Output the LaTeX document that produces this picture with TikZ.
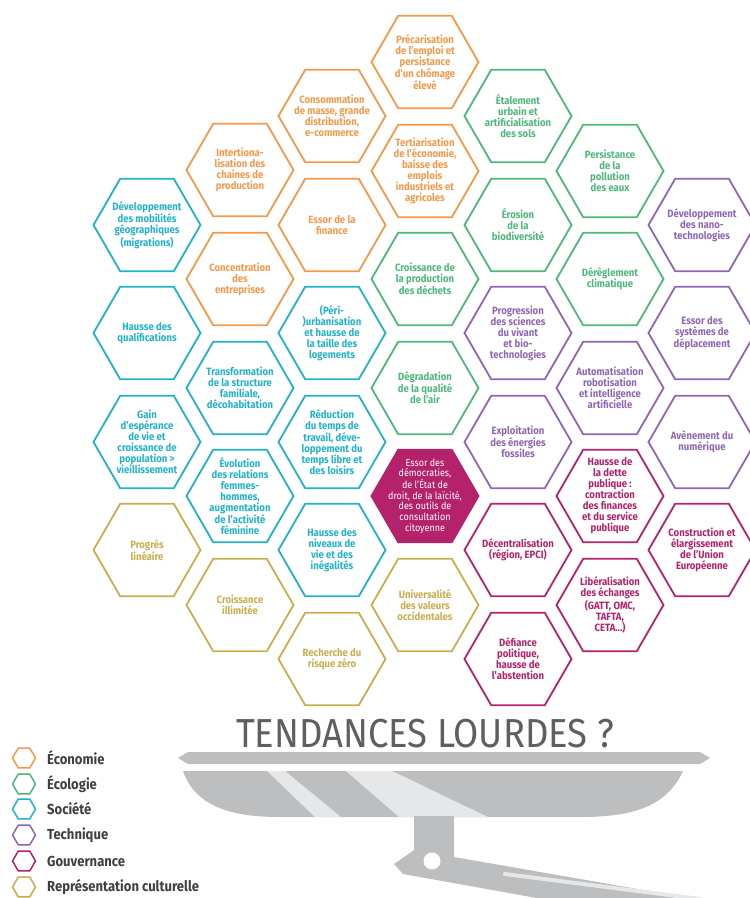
\documentclass[tikz,border=0pt]{standalone}
\usepackage{fontspec}
\setmainfont{Fira Sans}[FakeStretch=0.9]
\usetikzlibrary{shapes.geometric}

\definecolor{ecocol}{HTML}{F4994A}
\definecolor{ecolcol}{HTML}{4DB878}
\definecolor{soccol}{HTML}{22B2C7}
\definecolor{techcol}{HTML}{8E66B3}
\definecolor{gouvcol}{HTML}{B3226B}
\definecolor{cultcol}{HTML}{C8AE4E}
\definecolor{panfill}{HTML}{BDBEC0}
\definecolor{panlight}{HTML}{E6E7E8}
\definecolor{titlegray}{HTML}{5E5F62}
\definecolor{keygray}{HTML}{3F4042}

% one cell of the honeycomb: name, x, y, colour, text
\newcommand{\hexcell}[5]{%
  \node [hexbox, draw=#4] (#1) at (#2,#3) {};
  \node [hextext, text=#4] (#1-t) at (#1.center) {#5};
}
% one key entry: name, y, colour, text
\newcommand{\keyentry}[4]{%
  \node [keyhex, draw=#3] (#1) at (24,#2) {};
  \node [keytext] (#1-t) at (47,#2) {#4};
}

\begin{document}
\begin{tikzpicture}[x=1pt,y=1pt,yscale=-1,
  hexbox/.style={regular polygon, regular polygon sides=6, minimum size=107pt,
    inner sep=0pt, line width=1.8pt},
  hextext/.style={align=center, inner sep=0pt,
    font=\bfseries\fontsize{10.6}{11}\selectfont},
  keyhex/.style={regular polygon, regular polygon sides=6, minimum size=23pt,
    inner sep=0pt, line width=1.5pt},
  keytext/.style={anchor=west, inner sep=0pt, text=keygray,
    font=\bfseries\fontsize{14.5}{16}\selectfont}]
\clip (0,0) rectangle (750,898);

% column 0
\hexcell{mobil}{147}{225}{soccol}{Développement\\des mobilités\\géographiques\\(migrations)}
\hexcell{qualif}{147}{333}{soccol}{Hausse des\\qualifications}
\hexcell{esper}{147}{442}{soccol}{Gain\\d'espérance\\de vie et\\croissance de\\population >\\vieillissement}
\hexcell{progres}{147}{550}{cultcol}{Progrès\\linéaire}

% column 1
\hexcell{internat}{240}{170}{ecocol}{Intertiona-\\lisation des\\chaines de\\production}
\hexcell{concent}{240}{279}{ecocol}{Concentration\\des\\entreprises}
\hexcell{famil}{240}{388}{soccol}{Transformation\\de la structure\\familiale,\\décohabitation}
\hexcell{femmes}{240}{496}{soccol}{Évolution\\des relations\\femmes-\\hommes,\\augmentation\\de l'activité\\féminine}
\hexcell{illim}{240}{605}{cultcol}{Croissance\\illimitée}

% column 2
\hexcell{conso}{332}{116}{ecocol}{Consommation\\de masse, grande\\distribution,\\e-commerce}
\hexcell{finance}{332}{225}{ecocol}{Essor de la\\finance}
\hexcell{urban}{332}{333}{soccol}{(Péri-\\)urbanisation\\et hausse de\\la taille des\\logements}
\hexcell{loisirs}{332}{442}{soccol}{Réduction\\du temps de\\travail, déve-\\loppement du\\temps libre et\\des loisirs}
\hexcell{niveaux}{332}{550}{soccol}{Hausse des\\niveaux de\\vie et des\\inégalités}
\hexcell{risque}{332}{659}{cultcol}{Recherche du\\risque zéro}

% column 3
\hexcell{precar}{425}{62}{ecocol}{Précarisation\\de l'emploi et\\persistance\\d'un chômage\\élevé}
\hexcell{tertia}{425}{171}{ecocol}{Tertiarisation\\de l'économie,\\baisse des\\emplois\\industriels et\\agricoles}
\hexcell{dechets}{425}{279}{ecolcol}{Croissance de\\la production\\des déchets}
\hexcell{air}{425}{388}{ecolcol}{Dégradation\\de la qualité\\de l'air}
\node [hexbox, draw=gouvcol, fill=gouvcol] (democ) at (425,496) {};
\node [hextext, text=white, font=\fontsize{10}{10.6}\selectfont] (democ-t) at (democ.center)
  {Essor des\\démocraties,\\de l'État de\\droit, de la laïcité,\\des outils de\\consultation\\citoyenne};
\hexcell{univ}{425}{605}{cultcol}{Universalité\\des valeurs\\occidentales}

% column 4
\hexcell{etal}{518}{116}{ecolcol}{Étalement\\urbain et\\artificialisation\\des sols}
\hexcell{biodiv}{518}{225}{ecolcol}{Érosion\\de la\\biodiversité}
\hexcell{vivant}{518}{333}{techcol}{Progression\\des sciences\\du vivant\\et bio-\\technologies}
\hexcell{fossil}{518}{442}{techcol}{Exploitation\\des énergies\\fossiles}
\hexcell{decentr}{518}{550}{gouvcol}{Décentralisation\\(région, EPCI)}
\hexcell{defiance}{518}{659}{gouvcol}{Défiance\\politique,\\hausse de\\l'abstention}

% column 5
\hexcell{eaux}{610}{171}{ecolcol}{Persistance\\de la\\pollution\\des eaux}
\hexcell{climat}{610}{279}{ecolcol}{Dérèglement\\climatique}
\hexcell{robot}{610}{388}{techcol}{Automatisation\\robotisation\\et intelligence\\artificielle}
\hexcell{dette}{610}{496}{gouvcol}{Hausse de\\la dette\\publique :\\contraction\\des finances\\et du service\\publique}
\hexcell{echanges}{610}{605}{gouvcol}{Libéralisation\\des échanges\\(GATT, OMC,\\TAFTA,\\CETA...)}

% column 6
\hexcell{nano}{702}{225}{techcol}{Développement\\des nano-\\technologies}
\hexcell{deplac}{702}{333}{techcol}{Essor des\\systèmes de\\déplacement}
\hexcell{numer}{702}{442}{techcol}{Avènement du\\numérique}
\hexcell{europe}{702}{550}{gouvcol}{Construction et\\élargissement\\de l'Union\\Européenne}

% the pan
\node [anchor=base, inner sep=0pt, text=titlegray, font=\fontsize{40.5}{44}\selectfont]
  (titre) at (425,747) {TENDANCES LOURDES ?};
\fill [panfill] (178,758) -- (188,752) -- (700,752) -- (710,758) -- (700,764) -- (188,764) -- cycle;
\fill [panfill] (183,771) -- (683,771) .. controls (666,808) and (630,817) .. (580,817)
  -- (280,817) .. controls (228,817) and (195,805) .. (183,771) -- cycle;
\fill [panlight] (267,771) -- (285,771) -- (341,817) -- (315,817) -- cycle;
\fill [panlight] (346,771) -- (392,771) -- (488,817) -- (399,817) -- cycle;
\fill [panfill] (414,816) -- (454,816) -- (454,857) -- (770,912) -- (770,940)
  -- (470,886) -- (403,874) -- (394,864) -- (414,850) -- cycle;
\fill [white] (432,861) circle (8.5);
\draw [panlight, line width=4pt, line cap=round] (505,874) -- (700,899);

% key
\keyentry{keyeco}{758}{ecocol}{Économie}
\keyentry{keyecol}{784}{ecolcol}{Écologie}
\keyentry{keysoc}{809}{soccol}{Société}
\keyentry{keytech}{835}{techcol}{Technique}
\keyentry{keygouv}{861}{gouvcol}{Gouvernance}
\keyentry{keycult}{887}{cultcol}{Représentation culturelle}

\end{tikzpicture}
\end{document}
